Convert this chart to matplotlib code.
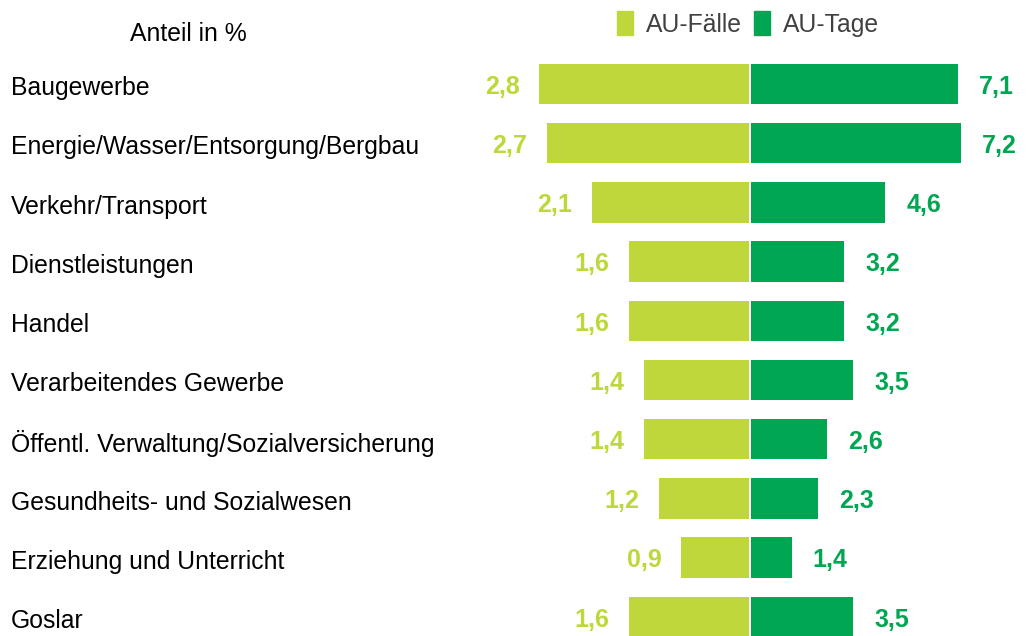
import matplotlib.pyplot as plt
import matplotlib.transforms as mtransforms
from matplotlib.patches import Patch

plt.rcParams['font.family'] = ['Liberation Sans', 'DejaVu Sans']

branchen = ['Baugewerbe', 'Energie/Wasser/Entsorgung/Bergbau', 'Verkehr/Transport',
            'Dienstleistungen', 'Handel', 'Verarbeitendes Gewerbe',
            'Öffentl. Verwaltung/Sozialversicherung', 'Gesundheits- und Sozialwesen',
            'Erziehung und Unterricht', 'Goslar']
au_faelle = [2.8, 2.7, 2.1, 1.6, 1.6, 1.4, 1.4, 1.2, 0.9, 1.6]
au_tage = [7.1, 7.2, 4.6, 3.2, 3.2, 3.5, 2.6, 2.3, 1.4, 3.5]

hell = '#bfd73a'
dunkel = '#00a651'

W, H = 1031, 636
fig = plt.figure(figsize=(W / 100, H / 100), dpi=100)

# left half (AU-Faelle), 75 px per unit, right half (AU-Tage), ~29.2 px per unit
axl = fig.add_axes([449 / W, 0, 300 / W, 1])
axr = fig.add_axes([751 / W, 0, 280 / W, 1])

ypos = list(range(len(branchen)))
row = 59.2
ylim = ((H - 84) / row, -84 / row)

axl.barh(ypos, au_faelle, height=0.68, color=hell)
axr.barh(ypos, au_tage, height=0.68, color=dunkel)
axl.set_xlim(4, 0)
axr.set_xlim(0, 280 / 29.2)

for ax in (axl, axr):
    ax.set_ylim(*ylim)
    ax.axis('off')

for y, v in zip(ypos, au_faelle):
    axl.annotate(f'{v:.1f}'.replace('.', ','), (v, y), xytext=(-14, -2),
                 textcoords='offset points', ha='right', va='center',
                 fontsize=18, fontweight='bold', color=hell)
for y, v in zip(ypos, au_tage):
    axr.annotate(f'{v:.1f}'.replace('.', ','), (v, y), xytext=(15, -2),
                 textcoords='offset points', ha='left', va='center',
                 fontsize=18, fontweight='bold', color=dunkel)

trans = mtransforms.blended_transform_factory(fig.transFigure, axl.transData)
offs = mtransforms.ScaledTranslation(0, -3 / 72, fig.dpi_scale_trans)
for y, name in zip(ypos, branchen):
    fig.text(11 / W, y, name, transform=trans + offs, ha='left', va='center',
             fontsize=17.8, color='black')

fig.text(130 / W, 1 - 34 / H, 'Anteil in %', ha='left', va='center',
         fontsize=17.8, color='black')

handles = [Patch(color=hell, label='AU-Fälle'), Patch(color=dunkel, label='AU-Tage')]
leg = fig.legend(handles=handles, loc='center', bbox_to_anchor=(748 / W, 1 - 24 / H),
                 ncol=2, frameon=False, fontsize=17.8, handlelength=0.65,
                 handleheight=1.1, handletextpad=0.5, columnspacing=0.5)
for t in leg.get_texts():
    t.set_color('#404040')

fig.savefig('out.png', dpi=100)
